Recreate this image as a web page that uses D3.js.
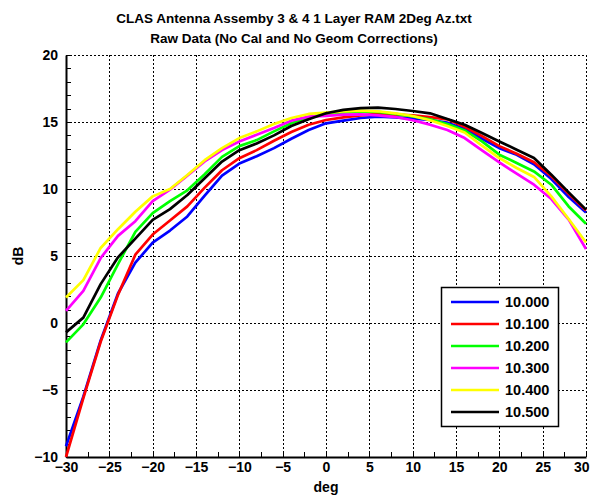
<!DOCTYPE html>
<html>
<head>
<meta charset="utf-8">
<script src="https://cdn.jsdelivr.net/npm/d3@7"></script>
<style>
  html, body { margin: 0; padding: 0; background: #fff; }
  svg { display: block; }
  text { font-family: "Liberation Sans", Arial, sans-serif; font-weight: bold; fill: #000; }
</style>
</head>
<body>
<div id="chart"></div>
<script>
const titleLines = ["CLAS Antenna Assemby 3 & 4 1 Layer RAM 2Deg Az.txt", "Raw Data (No Cal and No Geom Corrections)"];
const xLabel = "deg";
const yLabel = "dB";
const angles = d3.range(-30, 31, 2);
const seriesNames = ["10.000", "10.100", "10.200", "10.300", "10.400", "10.500"];
const seriesColors = ["#0000ff", "#ff0000", "#00ff00", "#ff00ff", "#ffff00", "#000000"];
const s10000 = [-9.2, -5.5, -1.3, 2.2, 4.5, 6.0, 6.9, 7.95, 9.5, 11.0, 11.9, 12.45, 13.05, 13.75, 14.4, 14.9, 15.1, 15.3, 15.4, 15.35, 15.25, 15.15, 14.95, 14.5, 13.75, 13.05, 12.55, 11.85, 10.75, 9.4, 8.25];
const s10100 = [-10.0, -5.6, -1.4, 2.1, 5.1, 6.6, 7.65, 8.7, 10.1, 11.4, 12.3, 12.9, 13.6, 14.25, 14.8, 15.15, 15.35, 15.5, 15.6, 15.55, 15.5, 15.37, 15.2, 14.65, 13.95, 13.2, 12.63, 12.0, 10.95, 9.65, 8.4];
const s10200 = [-1.45, -0.1, 1.9, 4.4, 6.8, 8.2, 9.1, 9.9, 11.1, 12.4, 13.2, 13.65, 14.3, 14.9, 15.35, 15.6, 15.7, 15.8, 15.75, 15.6, 15.42, 15.2, 14.85, 14.37, 13.55, 12.56, 11.94, 11.31, 10.32, 8.7, 7.41];
const s10300 = [0.9, 2.4, 4.85, 6.5, 7.6, 9.1, 9.95, 11.0, 12.06, 12.9, 13.55, 14.05, 14.55, 15.1, 15.4, 15.45, 15.55, 15.57, 15.5, 15.37, 15.13, 14.8, 14.4, 13.8, 12.88, 11.99, 11.14, 10.32, 9.25, 7.71, 5.52];
const s10400 = [1.9, 3.2, 5.6, 7.0, 8.3, 9.45, 10.0, 11.05, 12.15, 13.05, 13.8, 14.3, 14.85, 15.3, 15.6, 15.7, 15.8, 15.85, 15.8, 15.65, 15.45, 15.13, 14.7, 14.22, 13.23, 12.31, 11.57, 10.9, 9.45, 7.76, 6.01];
const s10500 = [-0.7, 0.4, 2.9, 4.9, 6.3, 7.7, 8.5, 9.55, 10.8, 12.05, 12.9, 13.4, 14.0, 14.7, 15.2, 15.65, 15.9, 16.03, 16.07, 15.97, 15.82, 15.65, 15.22, 14.8, 14.18, 13.55, 12.93, 12.31, 11.07, 9.75, 8.46];
const seriesValues = [s10000, s10100, s10200, s10300, s10400, s10500];
const xTicks = d3.range(-30, 31, 5);
const yTicks = d3.range(-10, 21, 5);
const xMinor = d3.range(-30, 30.1, 2.5);
const yMinor = d3.range(-10, 20.1, 1);

const W = 590, H = 498;
const m = { left: 66, right: 4, top: 55, bottom: 41 };
const svg = d3.select("#chart").append("svg").attr("width", W).attr("height", H);

const x = d3.scaleLinear().domain([-30, 30]).range([m.left, W - m.right]);
const y = d3.scaleLinear().domain([-10, 20]).range([H - m.bottom, m.top]);

// grid
const grid = svg.append("g").attr("stroke", "#000").attr("stroke-width", 1).attr("stroke-dasharray", "2,2");
grid.selectAll(".gx").data(xTicks.filter(d => d !== -30)).enter().append("line")
  .attr("x1", d => Math.round(x(d)) + 0.5).attr("x2", d => Math.round(x(d)) + 0.5)
  .attr("y1", y(-10)).attr("y2", y(20));
grid.selectAll(".gy").data(yTicks.filter(d => d !== -10)).enter().append("line")
  .attr("y1", d => Math.round(y(d)) + 0.5).attr("y2", d => Math.round(y(d)) + 0.5)
  .attr("x1", x(-30)).attr("x2", x(30));

// minor ticks
const tk = svg.append("g").attr("stroke", "#000").attr("stroke-width", 1);
tk.selectAll(".mx").data(xMinor).enter().append("line")
  .attr("x1", d => Math.round(x(d)) + 0.5).attr("x2", d => Math.round(x(d)) + 0.5)
  .attr("y1", y(-10)).attr("y2", y(-10) - 5);
tk.selectAll(".my").data(yMinor).enter().append("line")
  .attr("y1", d => Math.round(y(d)) + 0.5).attr("y2", d => Math.round(y(d)) + 0.5)
  .attr("x1", x(-30)).attr("x2", x(-30) + 5);

// axes
const xAxis = d3.axisBottom(x).tickValues(xTicks).tickSize(0).tickPadding(5).tickFormat(d3.format("d"));
const yAxis = d3.axisLeft(y).tickValues(yTicks).tickSize(0).tickPadding(8).tickFormat(d3.format("d"));
const gx = svg.append("g").attr("transform", `translate(0,${y(-10)})`).call(xAxis);
const gy = svg.append("g").attr("transform", `translate(${x(-30)},0)`).call(yAxis);
[gx, gy].forEach(g => {
  g.select(".domain").attr("stroke", "#000").attr("stroke-width", 2);
  g.selectAll("text").style("font-size", "14px").style("font-weight", "bold")
    .style("font-family", '"Liberation Sans", Arial, sans-serif').attr("fill", "#000");
});
// keep the last x label inside the page
gx.selectAll(".tick").filter(d => d === 30).select("text").attr("text-anchor", "end").attr("dx", "3");

// lines
const line = d3.line().x((d, i) => x(angles[i])).y(d => y(d));
svg.append("g").selectAll("path").data(seriesValues).enter().append("path")
  .attr("d", d => line(d))
  .attr("fill", "none")
  .attr("stroke", (d, i) => seriesColors[i])
  .attr("stroke-width", 2.7)
  .attr("stroke-linejoin", "round");

// titles
svg.append("g").selectAll("text").data(titleLines).enter().append("text")
  .attr("x", 294).attr("y", (d, i) => 23 + i * 20)
  .attr("text-anchor", "middle").style("font-size", "13.5px").text(d => d);

svg.append("text").attr("x", x(0)).attr("y", 492).attr("text-anchor", "middle")
  .style("font-size", "14px").text(xLabel);
svg.append("text").attr("transform", `translate(23,${(y(-10) + y(20)) / 2}) rotate(-90)`)
  .attr("text-anchor", "middle").style("font-size", "14px").text(yLabel);

// legend
const lg = svg.append("g").attr("transform", "translate(441,287)");
lg.append("rect").attr("x", 0.5).attr("y", 0.5).attr("width", 117).attr("height", 139)
  .attr("fill", "#fff").attr("stroke", "#000").attr("stroke-width", 1.5);
const items = lg.selectAll(".it").data(seriesNames).enter().append("g")
  .attr("transform", (d, i) => `translate(0,${15 + i * 22})`);
items.append("line").attr("x1", 10).attr("x2", 58).attr("y1", 0).attr("y2", 0)
  .attr("stroke", (d, i) => seriesColors[i]).attr("stroke-width", 2.7);
items.append("text").attr("x", 64).attr("y", 5).style("font-size", "14.5px").text(d => d);
</script>
</body>
</html>
